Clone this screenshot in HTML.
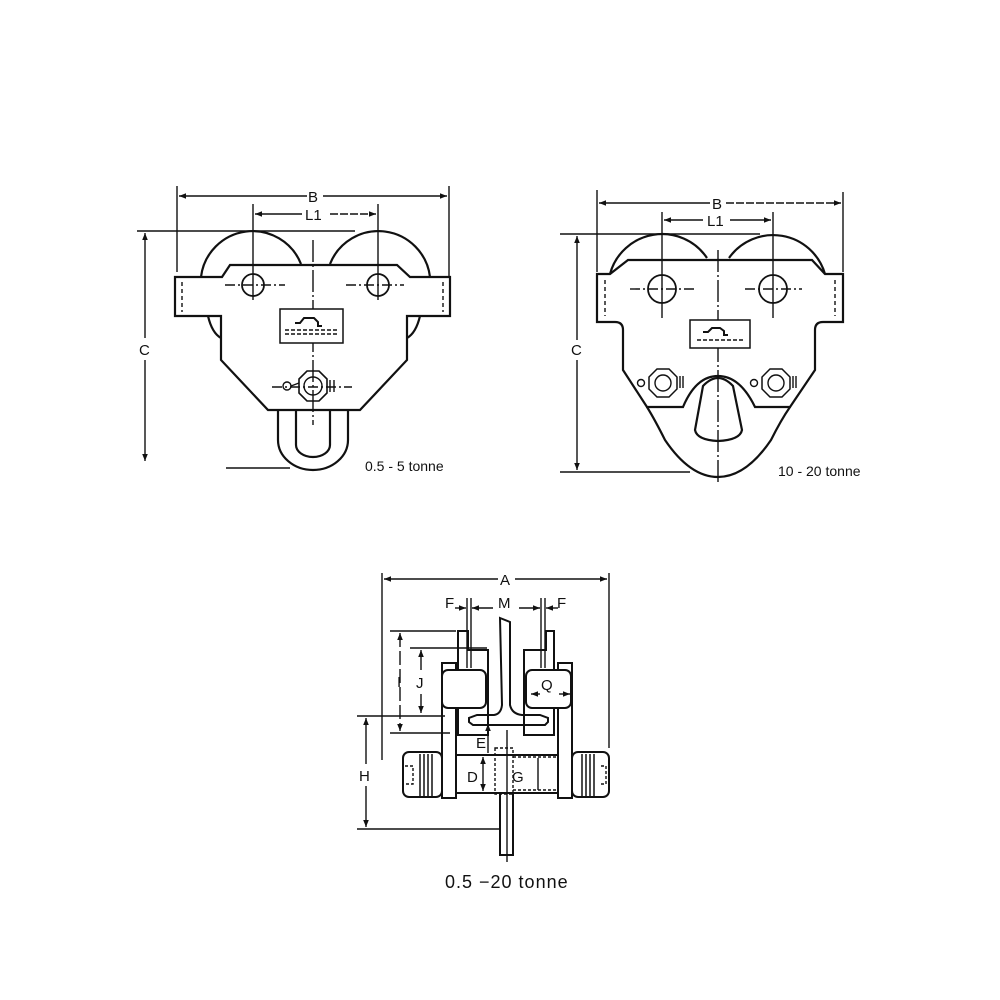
<!DOCTYPE html>
<html><head><meta charset="utf-8"><style>
html,body{margin:0;padding:0;background:#fff}
svg{display:block}
text{font-family:"Liberation Sans",sans-serif;fill:#111}
</style></head><body>
<svg width="1000" height="1000" viewBox="0 0 1000 1000" xmlns="http://www.w3.org/2000/svg">
<defs>
<marker id="a" viewBox="0 0 10 10" refX="10" refY="5" markerWidth="9" markerHeight="7" orient="auto-start-reverse" markerUnits="userSpaceOnUse"><path d="M0,1L10,5L0,9z" fill="#111"/></marker>
</defs>
<g stroke="#111" fill="none" stroke-width="1.4">
<!-- ===== Drawing 1 ===== -->
<line x1="177" y1="186" x2="177" y2="272"/><line x1="449" y1="186" x2="449" y2="276"/>
<line x1="179" y1="196" x2="307" y2="196" marker-start="url(#a)"/><line x1="323" y1="196" x2="447" y2="196" marker-end="url(#a)"/>
<line x1="253" y1="204" x2="253" y2="300"/><line x1="378" y1="204" x2="378" y2="300"/>
<line x1="255" y1="214" x2="302" y2="214" marker-start="url(#a)"/><line x1="330" y1="214" x2="376" y2="214" marker-end="url(#a)" stroke-dasharray="8 2"/>
<line x1="137" y1="231" x2="355" y2="231"/>
<line x1="145" y1="233" x2="145" y2="338" marker-start="url(#a)"/><line x1="145" y1="360" x2="145" y2="461" marker-end="url(#a)"/>
<line x1="226" y1="468" x2="290" y2="468"/>
<g stroke-width="2.2">
<path d="M201,277 A52,52 0 0 1 301,264"/><path d="M330,264 A52,52 0 0 1 430,277"/>
<path d="M175,277 H222 L230,265 H397 L410,277 H450 V316 H407 V360 L360,410 H268 L221,360 V316 H175 Z"/>
<path d="M208,316 Q212,333 221,338"/><path d="M420,316 Q416,333 407,338"/>
<path d="M278,410 V440 A35,30 0 0 0 348,440 V410"/>
<path d="M296,410 V445 A17,12 0 0 0 330,445 V410"/>
</g>
<line x1="182" y1="282" x2="182" y2="312" stroke-dasharray="4 3"/><line x1="443" y1="282" x2="443" y2="312" stroke-dasharray="4 3"/>
<circle cx="253" cy="285" r="11" stroke-width="1.8"/><circle cx="378" cy="285" r="11" stroke-width="1.8"/>
<line x1="225" y1="285" x2="285" y2="285" stroke-dasharray="10 3 2 3"/><line x1="346" y1="285" x2="404" y2="285" stroke-dasharray="10 3 2 3"/>
<line x1="313" y1="240" x2="313" y2="425" stroke-dasharray="22 3 2 3"/>
<rect x="280" y="309" width="63" height="34" fill="#fff" stroke-width="1.5"/>
<path d="M295,323 h5 l4,-5 h10 l4,4 v4 h4" stroke-width="2"/>
<line x1="285" y1="330" x2="338" y2="330" stroke-dasharray="4 2"/><line x1="285" y1="334" x2="338" y2="334" stroke-dasharray="4 2"/>
<polygon points="307,371 319,371 327,379 327,393 319,401 307,401 299,393 299,379" stroke-width="1.6"/>
<circle cx="313" cy="386" r="9"/><circle cx="287" cy="386" r="4"/><path d="M291,386 L299,383"/><path d="M330,380 v12 M334,380 v12"/>
<line x1="272" y1="387" x2="352" y2="387" stroke-dasharray="10 3 2 3"/>
<!-- ===== Drawing 2 ===== -->
<line x1="597" y1="190" x2="597" y2="272"/><line x1="843" y1="192" x2="843" y2="272"/>
<line x1="599" y1="203" x2="710" y2="203" marker-start="url(#a)"/><line x1="726" y1="203" x2="841" y2="203" marker-end="url(#a)" stroke-dasharray="8 2"/>
<line x1="662" y1="212" x2="662" y2="318"/><line x1="773" y1="212" x2="773" y2="318"/>
<line x1="664" y1="220" x2="703" y2="220" marker-start="url(#a)"/><line x1="730" y1="220" x2="771" y2="220" marker-end="url(#a)"/>
<line x1="560" y1="234" x2="760" y2="234"/>
<line x1="577" y1="236" x2="577" y2="340" marker-start="url(#a)"/><line x1="577" y1="360" x2="577" y2="470" marker-end="url(#a)"/>
<line x1="560" y1="472" x2="690" y2="472"/>
<g stroke-width="2.2">
<path d="M610,274 A54,54 0 0 1 707,258"/><path d="M729,258 A54,54 0 0 1 825,274"/>
<path d="M597,274 H610 L628,260 H812 L825,274 H843 V322 H823 Q815,322 815,330 V370 L790,407 H755 Q740,376 718,376 Q696,376 683,407 H647 L623,370 V330 Q623,322 615,322 H597 Z"/>
<path d="M647,407 Q655,420 665,440 Q690,477 718,477 Q746,477 771,440 Q781,420 790,407"/>
<path d="M703,386 Q718,370 733,386 L742,430 Q740,440 718,441 Q697,440 695,430 Z"/>
</g>
<line x1="605" y1="280" x2="605" y2="316" stroke-dasharray="4 3"/><line x1="835" y1="280" x2="835" y2="316" stroke-dasharray="4 3"/>
<circle cx="662" cy="289" r="14" stroke-width="1.8"/><circle cx="773" cy="289" r="14" stroke-width="1.8"/>
<line x1="630" y1="289" x2="695" y2="289" stroke-dasharray="10 3 2 3"/><line x1="745" y1="289" x2="802" y2="289" stroke-dasharray="10 3 2 3"/>
<line x1="718" y1="250" x2="718" y2="485" stroke-dasharray="22 3 2 3"/>
<rect x="690" y="320" width="60" height="28" fill="#fff" stroke-width="1.5"/>
<path d="M703,332 h5 l4,-4 h8 l4,3 v4 h4" stroke-width="2"/>
<line x1="697" y1="340" x2="745" y2="340" stroke-dasharray="4 2"/>
<polygon points="657,369 669,369 677,377 677,389 669,397 657,397 649,389 649,377" stroke-width="1.5"/><circle cx="663" cy="383" r="8"/><circle cx="641" cy="383" r="3.5"/>
<polygon points="770,369 782,369 790,377 790,389 782,397 770,397 762,389 762,377" stroke-width="1.5"/><circle cx="776" cy="383" r="8"/><circle cx="754" cy="383" r="3.5"/>
<path d="M680,376 v12 M683,376 v12 M793,376 v12 M796,376 v12"/>
<!-- ===== Drawing 3 ===== -->
<line x1="382" y1="573" x2="382" y2="760"/><line x1="609" y1="573" x2="609" y2="748"/>
<line x1="384" y1="579" x2="498" y2="579" marker-start="url(#a)"/><line x1="515" y1="579" x2="607" y2="579" marker-end="url(#a)"/>
<line x1="467" y1="598" x2="467" y2="668"/><line x1="471" y1="598" x2="471" y2="668"/>
<line x1="541" y1="598" x2="541" y2="668"/><line x1="545" y1="598" x2="545" y2="668"/>
<line x1="455" y1="608" x2="466" y2="608" marker-end="url(#a)"/><line x1="493" y1="608" x2="472" y2="608" marker-end="url(#a)"/>
<line x1="519" y1="608" x2="540" y2="608" marker-end="url(#a)"/><line x1="558" y1="608" x2="546" y2="608" marker-end="url(#a)"/>
<g stroke-width="2">
<path d="M500,618 L510,622 V705 Q512,714 522,715 H540 L548,718 V722 L545,725 H473 L469,722 V718 L477,715 H494 Q501,714 502,705 Z"/>
<path d="M460,631 H468 V650 H488 V735 H458 V631 Z"/><path d="M546,631 H554 V735 H524 V650 H546 Z"/>
<rect x="442" y="663" width="14" height="135"/><rect x="558" y="663" width="14" height="135"/>
<rect x="442" y="670" width="44" height="38" rx="6" fill="#fff"/><rect x="526" y="670" width="45" height="38" rx="6" fill="#fff"/>
<rect x="456" y="755" width="102" height="38"/>
<rect x="403" y="752" width="39" height="45" rx="6"/><rect x="572" y="752" width="37" height="45" rx="6"/>
<rect x="500" y="793" width="13" height="62"/>
</g>
<path d="M420,754 v42 M424,754 v42 M428,754 v42 M432,754 v42 M582,754 v42 M586,754 v42 M590,754 v42 M594,754 v42" stroke-width="1.5"/>
<path d="M405,766 h8 v18 h-8 M601,766 h5 v18 h-5" stroke-dasharray="3 2"/>
<path d="M495,748 h18 v46 h-18 z M513,757 h45 M513,790 h45" stroke-dasharray="3 2"/>
<line x1="507" y1="730" x2="507" y2="862"/>
<line x1="357" y1="716" x2="445" y2="716"/><line x1="357" y1="829" x2="500" y2="829"/>
<line x1="366" y1="718" x2="366" y2="764" marker-start="url(#a)"/><line x1="366" y1="786" x2="366" y2="827" marker-end="url(#a)"/>
<line x1="390" y1="631" x2="456" y2="631"/><line x1="390" y1="733" x2="450" y2="733"/>
<line x1="400" y1="633" x2="400" y2="731" marker-start="url(#a)" marker-end="url(#a)" stroke-dasharray="14 4"/>
<line x1="410" y1="648" x2="487" y2="648"/>
<line x1="421" y1="650" x2="421" y2="670" marker-start="url(#a)"/><line x1="421" y1="694" x2="421" y2="713" marker-end="url(#a)"/>
<line x1="488" y1="724" x2="488" y2="753" marker-start="url(#a)"/>
<line x1="483" y1="757" x2="483" y2="791" marker-start="url(#a)" marker-end="url(#a)"/>
<line x1="538" y1="758" x2="538" y2="790"/>
<line x1="531" y1="694" x2="540" y2="694" marker-start="url(#a)"/><line x1="559" y1="694" x2="570" y2="694" marker-end="url(#a)"/>
</g>
<g font-size="15">
<text x="308" y="202">B</text><text x="305" y="220">L1</text><text x="139" y="355">C</text>
<text x="365" y="471" font-size="14">0.5  - 5 tonne</text>
<text x="712" y="209">B</text><text x="707" y="226">L1</text><text x="571" y="355">C</text>
<text x="778" y="476" font-size="14">10 - 20 tonne</text>
<text x="500" y="585">A</text><text x="445" y="608">F</text><text x="498" y="608">M</text><text x="557" y="608">F</text>
<text x="397" y="687">I</text><text x="416" y="688">J</text><text x="541" y="690">Q</text>
<text x="359" y="781">H</text><text x="476" y="748">E</text><text x="467" y="782">D</text><text x="512" y="782">G</text>
<text x="445" y="888" font-size="18" letter-spacing="1">0.5  −20   tonne</text>
</g>
</svg>
</body></html>
